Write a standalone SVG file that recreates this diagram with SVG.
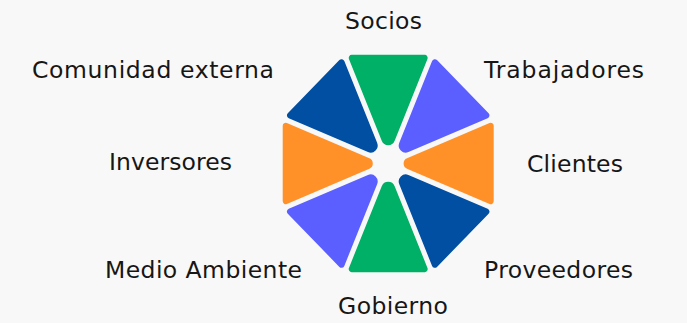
<svg xmlns="http://www.w3.org/2000/svg" xmlns:xlink="http://www.w3.org/1999/xlink" width="687" height="323" viewBox="0 0 687 323">
  <style>
    .lbl { font-family: "DejaVu Sans", "Noto Sans", sans-serif; font-size: 23.5px; fill: #161616; }
    .green { fill: #00B067; }
    .navy { fill: #004FA3; }
    .violet { fill: #5B5FFF; }
    .orange { fill: #FF9128; }
  </style>
  <defs>
    <path id="tri" d="M 22.146 6.467 L 101.35 39.27 A 3 3 0 0 0 105.5 36.5 L 105.5 -36.5 A 3 3 0 0 0 101.35 -39.27 L 22.146 -6.467 A 7 7 0 0 0 22.146 6.467 Z"/>
    <path id="triO" d="M 18.8 5.081 L 101.35 39.27 A 3 3 0 0 0 105.5 36.5 L 105.5 -36.5 A 3 3 0 0 0 101.35 -39.27 L 18.8 -5.081 A 5.5 5.5 0 0 0 18.8 5.081 Z"/>
  </defs>
  <rect width="687" height="323" fill="#F8F8F8"/>
  <g id="connectors"/>
  <g id="socios">
    <use xlink:href="#tri" class="green" transform="translate(388.2,163.5) scale(1,1.03) rotate(270)"/>
    <text class="lbl" x="345" y="29" textLength="77" lengthAdjust="spacing">Socios</text>
  </g>
  <g id="trabajadores">
    <use xlink:href="#tri" class="violet" transform="translate(388.2,163.5) scale(1,1.03) rotate(315)"/>
    <text class="lbl" x="484" y="77.5" textLength="160" lengthAdjust="spacing">Trabajadores</text>
  </g>
  <g id="clientes">
    <use xlink:href="#triO" class="orange" transform="translate(388.2,163.5) scale(1,1.03) rotate(0)"/>
    <text class="lbl" x="527" y="171.5" textLength="96" lengthAdjust="spacing">Clientes</text>
  </g>
  <g id="proveedores">
    <use xlink:href="#tri" class="navy" transform="translate(388.2,163.5) scale(1,1.03) rotate(45)"/>
    <text class="lbl" x="484" y="278" textLength="149" lengthAdjust="spacing">Proveedores</text>
  </g>
  <g id="gobierno">
    <use xlink:href="#tri" class="green" transform="translate(388.2,163.5) scale(1,1.03) rotate(90)"/>
    <text class="lbl" x="338" y="314" textLength="110" lengthAdjust="spacing">Gobierno</text>
  </g>
  <g id="medio-ambiente">
    <use xlink:href="#tri" class="violet" transform="translate(388.2,163.5) scale(1,1.03) rotate(135)"/>
    <text class="lbl" x="105" y="278" textLength="197" lengthAdjust="spacing">Medio Ambiente</text>
  </g>
  <g id="inversores">
    <use xlink:href="#triO" class="orange" transform="translate(388.2,163.5) scale(1,1.03) rotate(180)"/>
    <text class="lbl" x="109" y="170" textLength="123" lengthAdjust="spacing">Inversores</text>
  </g>
  <g id="comunidad-externa">
    <use xlink:href="#tri" class="navy" transform="translate(388.2,163.5) scale(1,1.03) rotate(225)"/>
    <text class="lbl" x="32" y="77.5" textLength="242" lengthAdjust="spacing">Comunidad externa</text>
  </g>
</svg>
